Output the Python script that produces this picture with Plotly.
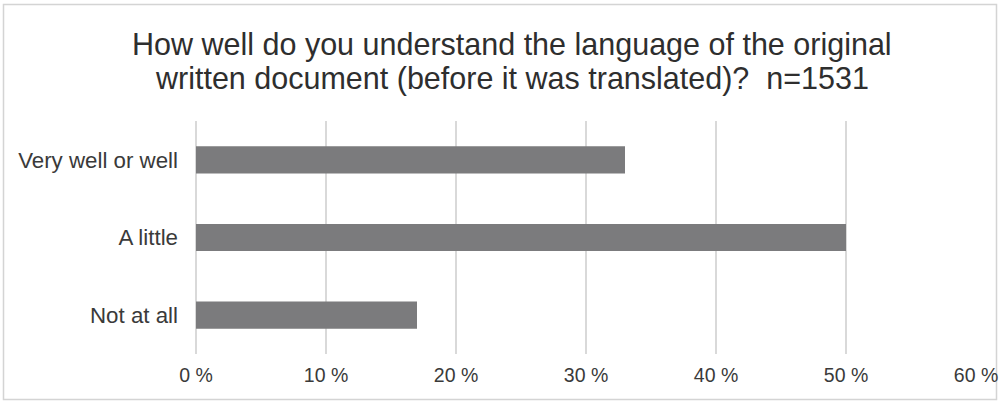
import plotly.graph_objects as go

categories = ["Very well or well", "A little", "Not at all"]
values = [33, 50, 17]
x_tickvals = [0, 10, 20, 30, 40, 50, 60]
x_ticktext = ["0 %", "10 %", "20 %", "30 %", "40 %", "50 %", "60 %"]
title_lines = ["How well do you understand the language of the original",
               "written document (before it was translated)?  n=1531"]

W, H = 999, 401
L, R, T, B = 196, 23, 121, 47
pw, ph = W - L - R, H - T - B

def px_to_paper_x(px):
    return (px - L) / pw

def px_to_paper_y(py):
    return (H - B - py) / ph

fig = go.Figure(go.Bar(
    x=values, y=categories, orientation="h",
    marker=dict(color="#7b7b7d", line=dict(width=0)),
    width=0.35,
))

title_centers_px = [44, 78]
annotations = [
    dict(text=line, xref="paper", yref="paper",
         x=px_to_paper_x(512), y=px_to_paper_y(cy),
         xanchor="center", yanchor="middle", showarrow=False,
         font=dict(size=30.5, color="#2e2e2e"))
    for line, cy in zip(title_lines, title_centers_px)
]

fig.update_layout(
    width=W, height=H,
    margin=dict(l=L, r=R, t=T, b=B, autoexpand=False),
    paper_bgcolor="white", plot_bgcolor="white",
    font=dict(family="Liberation Sans, Arial, sans-serif", color="#3a3a3a"),
    showlegend=False,
    annotations=annotations,
    xaxis=dict(range=[0, 60], tickvals=x_tickvals, ticktext=x_ticktext,
               showgrid=True, gridcolor="#d9d9d9", gridwidth=1.5,
               zeroline=True, zerolinecolor="#d9d9d9", zerolinewidth=1.5,
               showline=False, ticks="", ticklabelstandoff=7,
               tickfont=dict(size=19.5, color="#3a3a3a")),
    yaxis=dict(categoryorder="array", categoryarray=categories[::-1],
               range=[-0.5, 2.5], showgrid=False, zeroline=False, showline=False,
               ticks="", ticklabelstandoff=17,
               tickfont=dict(size=22.3, color="#3a3a3a")),
    shapes=[dict(type="rect", xref="paper", yref="paper",
                 x0=px_to_paper_x(3.5), x1=px_to_paper_x(996.5),
                 y0=px_to_paper_y(399.5), y1=px_to_paper_y(4.5),
                 line=dict(color="#d4d4d4", width=1.5), fillcolor="rgba(0,0,0,0)",
                 layer="below")],
)

fig.write_html("out.html")
